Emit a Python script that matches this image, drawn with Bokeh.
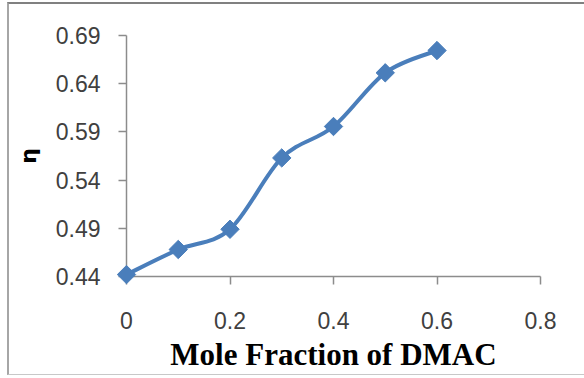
from bokeh.plotting import figure
from bokeh.models import Range1d, FixedTicker, ColumnDataSource
from bokeh.embed import file_html
from bokeh.resources import INLINE
import numpy as np

# Data
mole_fraction = [0.0, 0.1, 0.2, 0.3, 0.4, 0.5, 0.6]
eta = [0.442, 0.468, 0.489, 0.563, 0.5956, 0.6513, 0.6744]
x_ticks = [0, 0.2, 0.4, 0.6, 0.8]
y_ticks = [0.44, 0.49, 0.54, 0.59, 0.64, 0.69]
x_label = "Mole Fraction of DMAC"
y_label = "η"

BLUE = "#4A7EBB"

p = figure(width=584, height=378, output_backend="svg", toolbar_location=None,
           x_range=Range1d(0, 0.8), y_range=Range1d(0.44, 0.69),
           min_border_left=126, min_border_right=44, min_border_top=35,
           min_border_bottom=102)
p.outline_line_color = None
p.xgrid.visible = False
p.ygrid.visible = False
p.border_fill_color = "white"

# Smoothed line (Excel-style Bezier smoothing built from the data points)
xs = np.array(mole_fraction)
ys = np.array(eta)
n = len(xs)
x0, y0, x1, y1, cx0, cy0, cx1, cy1 = [], [], [], [], [], [], [], []
for i in range(n - 1):
    pm = max(i - 1, 0)
    pn = min(i + 2, n - 1)
    x0.append(xs[i]); y0.append(ys[i])
    x1.append(xs[i + 1]); y1.append(ys[i + 1])
    cx0.append(xs[i] + (xs[i + 1] - xs[pm]) / 6)
    cy0.append(ys[i] + (ys[i + 1] - ys[pm]) / 6)
    cx1.append(xs[i + 1] - (xs[pn] - xs[i]) / 6)
    cy1.append(ys[i + 1] - (ys[pn] - ys[i]) / 6)
bsrc = ColumnDataSource(dict(x0=x0, y0=y0, x1=x1, y1=y1, cx0=cx0, cy0=cy0, cx1=cx1, cy1=cy1))
p.bezier(x0="x0", y0="y0", x1="x1", y1="y1", cx0="cx0", cy0="cy0", cx1="cx1", cy1="cy1",
         source=bsrc, line_color=BLUE, line_width=4, level="overlay")

p.scatter(mole_fraction, eta, marker="square", size=13, angle=np.pi / 4,
          fill_color=BLUE, line_color=BLUE, level="overlay")

# Axes
for ax in (p.xaxis[0], p.yaxis[0]):
    ax.axis_line_color = "#8C8C8C"
    ax.axis_line_width = 1.5
    ax.major_tick_line_color = "#8C8C8C"
    ax.major_tick_line_width = 1.5
    ax.major_tick_out = 8
    ax.major_tick_in = 0
    ax.minor_tick_line_color = None
    ax.major_label_text_font = "Liberation Sans"
    ax.major_label_text_font_size = "23px"
    ax.major_label_text_color = "#404040"

p.xaxis.ticker = FixedTicker(ticks=x_ticks)
p.yaxis.ticker = FixedTicker(ticks=y_ticks)
p.xaxis.major_label_overrides = {0: "0"}
p.xaxis.major_label_standoff = 27
p.yaxis.major_label_standoff = 18

p.xaxis.axis_label = x_label
p.xaxis.axis_label_text_font = "Liberation Serif"
p.xaxis.axis_label_text_font_style = "bold"
p.xaxis.axis_label_text_font_size = "31px"
p.xaxis.axis_label_text_color = "#000000"
p.xaxis.axis_label_standoff = 5

p.yaxis.axis_label = y_label
p.yaxis.axis_label_text_font = "DejaVu Sans"
p.yaxis.axis_label_text_font_style = "bold"
p.yaxis.axis_label_text_font_size = "22px"
p.yaxis.axis_label_text_color = "#000000"
p.yaxis.axis_label_standoff = 12

html = file_html(p, INLINE)
# Outer chart frame drawn as a page decoration around the figure
frame_div = ('<div style="position:absolute;left:7px;top:2px;width:584px;height:370px;'
             'border-top:2px solid #808080;border-left:2px solid #A6A6A6;'
             'border-bottom:1.5px solid #C8C8C8;pointer-events:none;z-index:10"></div>')
html = html.replace("<body>", "<body style=\"margin:0;position:relative\">" + frame_div)
open("out.html", "w").write(html)
